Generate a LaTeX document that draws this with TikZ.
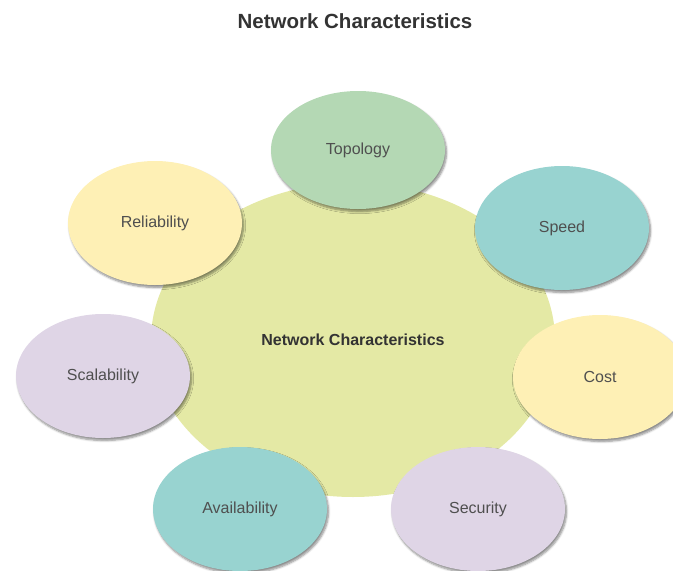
\documentclass[tikz,border=0pt]{standalone}
\usepackage{fontspec}
\setmainfont{Liberation Sans}
\usetikzlibrary{shapes.geometric,shadows.blur}
\definecolor{bigfill}{HTML}{E4E9A5}
\definecolor{greenfill}{HTML}{B4D8B4}
\definecolor{tealfill}{HTML}{98D3D0}
\definecolor{yellowfill}{HTML}{FEF0B5}
\definecolor{lavfill}{HTML}{DFD5E6}
\definecolor{txt}{HTML}{4F4F4F}
\tikzset{
  item/.style={ellipse, minimum width=174pt, minimum height=124pt, inner sep=0pt,
    text=txt, font=\fontsize{16}{18}\selectfont,
    blur shadow={shadow xshift=1.5pt, shadow yshift=-2.5pt, shadow blur steps=6, shadow opacity=45}},
}
\begin{document}
\begin{tikzpicture}[x=1pt,y=-1pt]
\useasboundingbox (0,0) rectangle (673,571);
\begin{scope}
\clip (0,0) rectangle (673,571);
\node[draw=none, text=black!80, font=\bfseries\fontsize{20.5}{24}\selectfont] (title) at (355,21) {Network Characteristics};
\node[ellipse, fill=bigfill, minimum width=404pt, minimum height=314pt, inner sep=0pt,
  text=black!80, font=\bfseries\fontsize{16}{18}\selectfont] (center) at (353,340) {Network Characteristics};
\node[item, fill=greenfill, minimum height=118pt] (topology) at (358,150) {Topology};
\node[item, fill=tealfill] (speed) at (562,228) {Speed};
\node[item, fill=yellowfill] (reliability) at (155,223) {Reliability};
\node[item, fill=lavfill] (scalability) at (103,376) {Scalability};
\node[item, fill=yellowfill] (cost) at (600,377) {Cost};
\node[item, fill=tealfill] (availability) at (240,509) {Availability};
\node[item, fill=lavfill] (security) at (478,509) {Security};
\end{scope}
\end{tikzpicture}
\end{document}
